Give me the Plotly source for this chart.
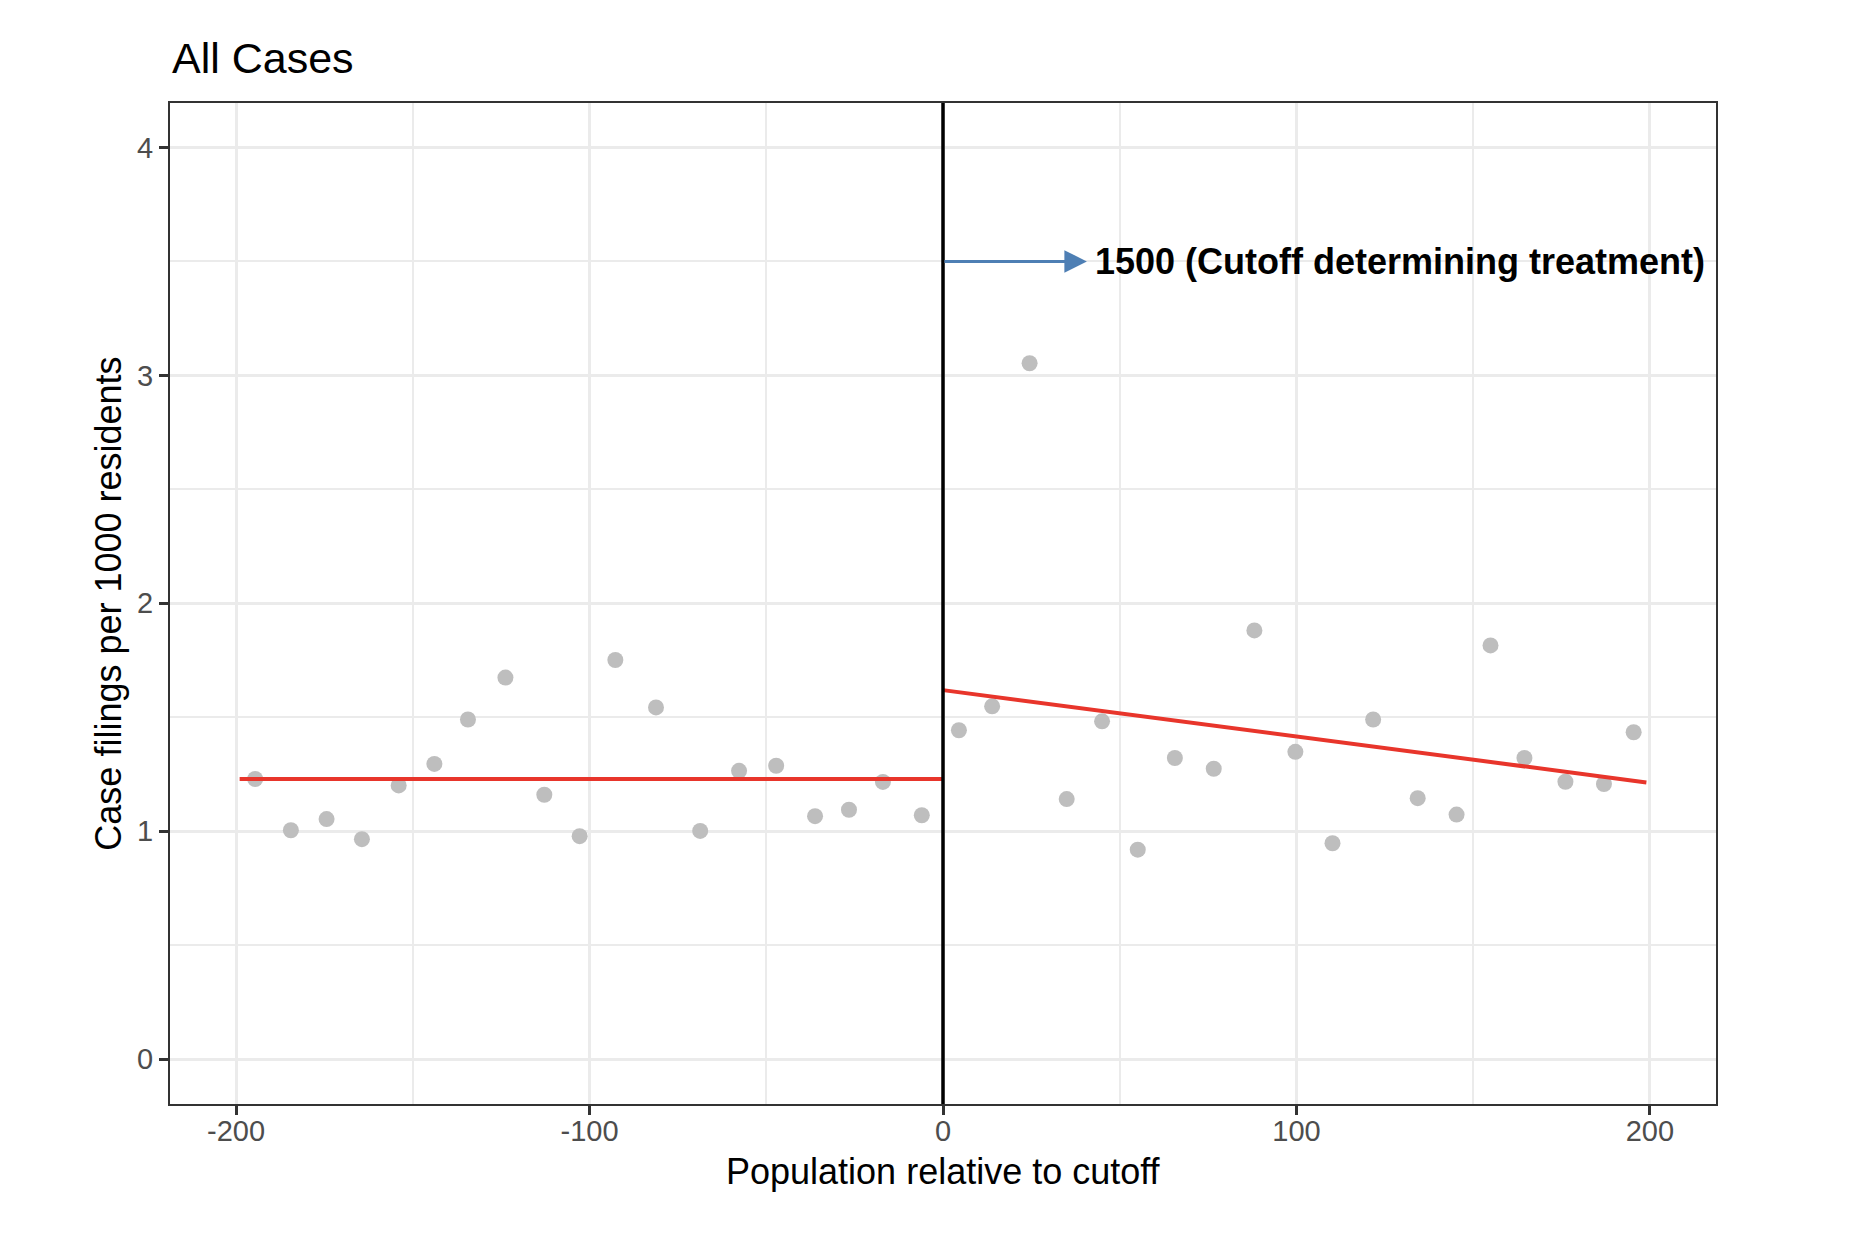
import plotly.graph_objects as go

# ---- data ----
left_x = [-194.6, -184.5, -174.4, -164.4, -154.0, -143.9, -134.4, -123.8, -112.8, -102.8,
          -92.7, -81.2, -68.7, -57.7, -47.2, -36.2, -26.6, -17.0, -6.0]
left_y = [1.229, 1.004, 1.053, 0.965, 1.201, 1.295, 1.490, 1.674, 1.160, 0.978,
          1.751, 1.543, 1.001, 1.265, 1.287, 1.066, 1.094, 1.216, 1.070]
right_x = [4.5, 13.9, 24.5, 35.0, 45.0, 55.1, 65.6, 76.6, 88.1, 99.7,
           110.2, 121.7, 134.3, 145.3, 154.9, 164.5, 176.1, 187.0, 195.4]
right_y = [1.443, 1.548, 3.053, 1.141, 1.482, 0.919, 1.321, 1.274, 1.881, 1.348,
           0.947, 1.490, 1.145, 1.073, 1.815, 1.321, 1.217, 1.207, 1.434]

fit_left_x = [-199, 0]
fit_left_y = [1.229, 1.229]
fit_right_x = [0, 199]
fit_right_y = [1.619, 1.214]

cutoff_x = 0
arrow_y = 3.5
arrow_end_x = 40.7
label_x = 42.4
label_text = "1500 (Cutoff determining treatment)"

x_ticks = [-200, -100, 0, 100, 200]
y_ticks = [0, 1, 2, 3, 4]

title_text = "All Cases"
x_title = "Population relative to cutoff"
y_title = "Case filings per 1000 residents"

FONT = "Liberation Sans"
POINT_COLOR = "#BEBEBE"
LINE_COLOR = "#E8352B"
ARROW_COLOR = "#4E7FB4"

fig = go.Figure()
fig.add_trace(go.Scatter(x=left_x + right_x, y=left_y + right_y, mode="markers",
                         marker=dict(size=16, color=POINT_COLOR, line=dict(width=0)),
                         hoverinfo="skip", showlegend=False))
fig.add_trace(go.Scatter(x=fit_left_x, y=fit_left_y, mode="lines",
                         line=dict(color=LINE_COLOR, width=4),
                         hoverinfo="skip", showlegend=False))
fig.add_trace(go.Scatter(x=fit_right_x, y=fit_right_y, mode="lines",
                         line=dict(color=LINE_COLOR, width=4),
                         hoverinfo="skip", showlegend=False))

fig.add_shape(type="line", xref="x", yref="paper", x0=cutoff_x, x1=cutoff_x, y0=0, y1=1,
              line=dict(color="black", width=3.5), layer="above")

fig.add_annotation(x=arrow_end_x, y=arrow_y, ax=cutoff_x, ay=arrow_y, axref="x", ayref="y",
                   xref="x", yref="y", text="", showarrow=True, arrowhead=2,
                   arrowsize=1.5, arrowwidth=3, arrowcolor=ARROW_COLOR, standoff=0)
fig.add_annotation(x=label_x, y=arrow_y, xref="x", yref="y", text="<b>" + label_text + "</b>",
                   showarrow=False, xanchor="left", yanchor="middle",
                   font=dict(family=FONT, size=36, color="black"))

# title and axis titles
fig.add_annotation(x=0, y=1.0186, xref="paper", yref="paper", text=title_text,
                   showarrow=False, xanchor="left", yanchor="bottom",
                   font=dict(family=FONT, size=43, color="black"))
fig.add_annotation(x=0.5, y=-0.045, xref="paper", yref="paper", text=x_title,
                   showarrow=False, xanchor="center", yanchor="top",
                   font=dict(family=FONT, size=36, color="black"))
fig.add_annotation(x=-0.040, y=0.500, xref="paper", yref="paper", text=y_title,
                   showarrow=False, xanchor="center", yanchor="middle", textangle=-90,
                   font=dict(family=FONT, size=36, color="black"))

axis_common = dict(
    showline=True, mirror=True, linecolor="#333333", linewidth=2,
    ticks="outside", ticklen=9, tickwidth=2.7, tickcolor="#333333",
    tickfont=dict(family=FONT, size=29, color="#4D4D4D"),
    showgrid=True, gridcolor="#EBEBEB", gridwidth=3.2, zeroline=False,
)

fig.update_xaxes(range=[-218.7, 218.7], tickmode="array", tickvals=x_ticks,
                 ticktext=[str(v) for v in x_ticks], ticklabelstandoff=-9,
                 minor=dict(dtick=50, tick0=0, showgrid=True, gridcolor="#EBEBEB", gridwidth=1.6,
                            ticks=""),
                 **axis_common)
fig.update_yaxes(range=[-0.197, 4.195], tickmode="array", tickvals=y_ticks,
                 ticktext=[str(v) for v in y_ticks],
                 minor=dict(dtick=0.5, tick0=0, showgrid=True, gridcolor="#EBEBEB", gridwidth=1.6,
                            ticks=""),
                 **axis_common)

# the page body has an 8px margin, so the figure is offset by 8px
fig.update_layout(
    width=1846, height=1230,
    margin=dict(l=162, r=138, t=95, b=134, pad=0),
    paper_bgcolor="white", plot_bgcolor="white",
    showlegend=False, hovermode=False,
    font=dict(family=FONT),
)

fig.write_html("out.html", config={"displayModeBar": False})
